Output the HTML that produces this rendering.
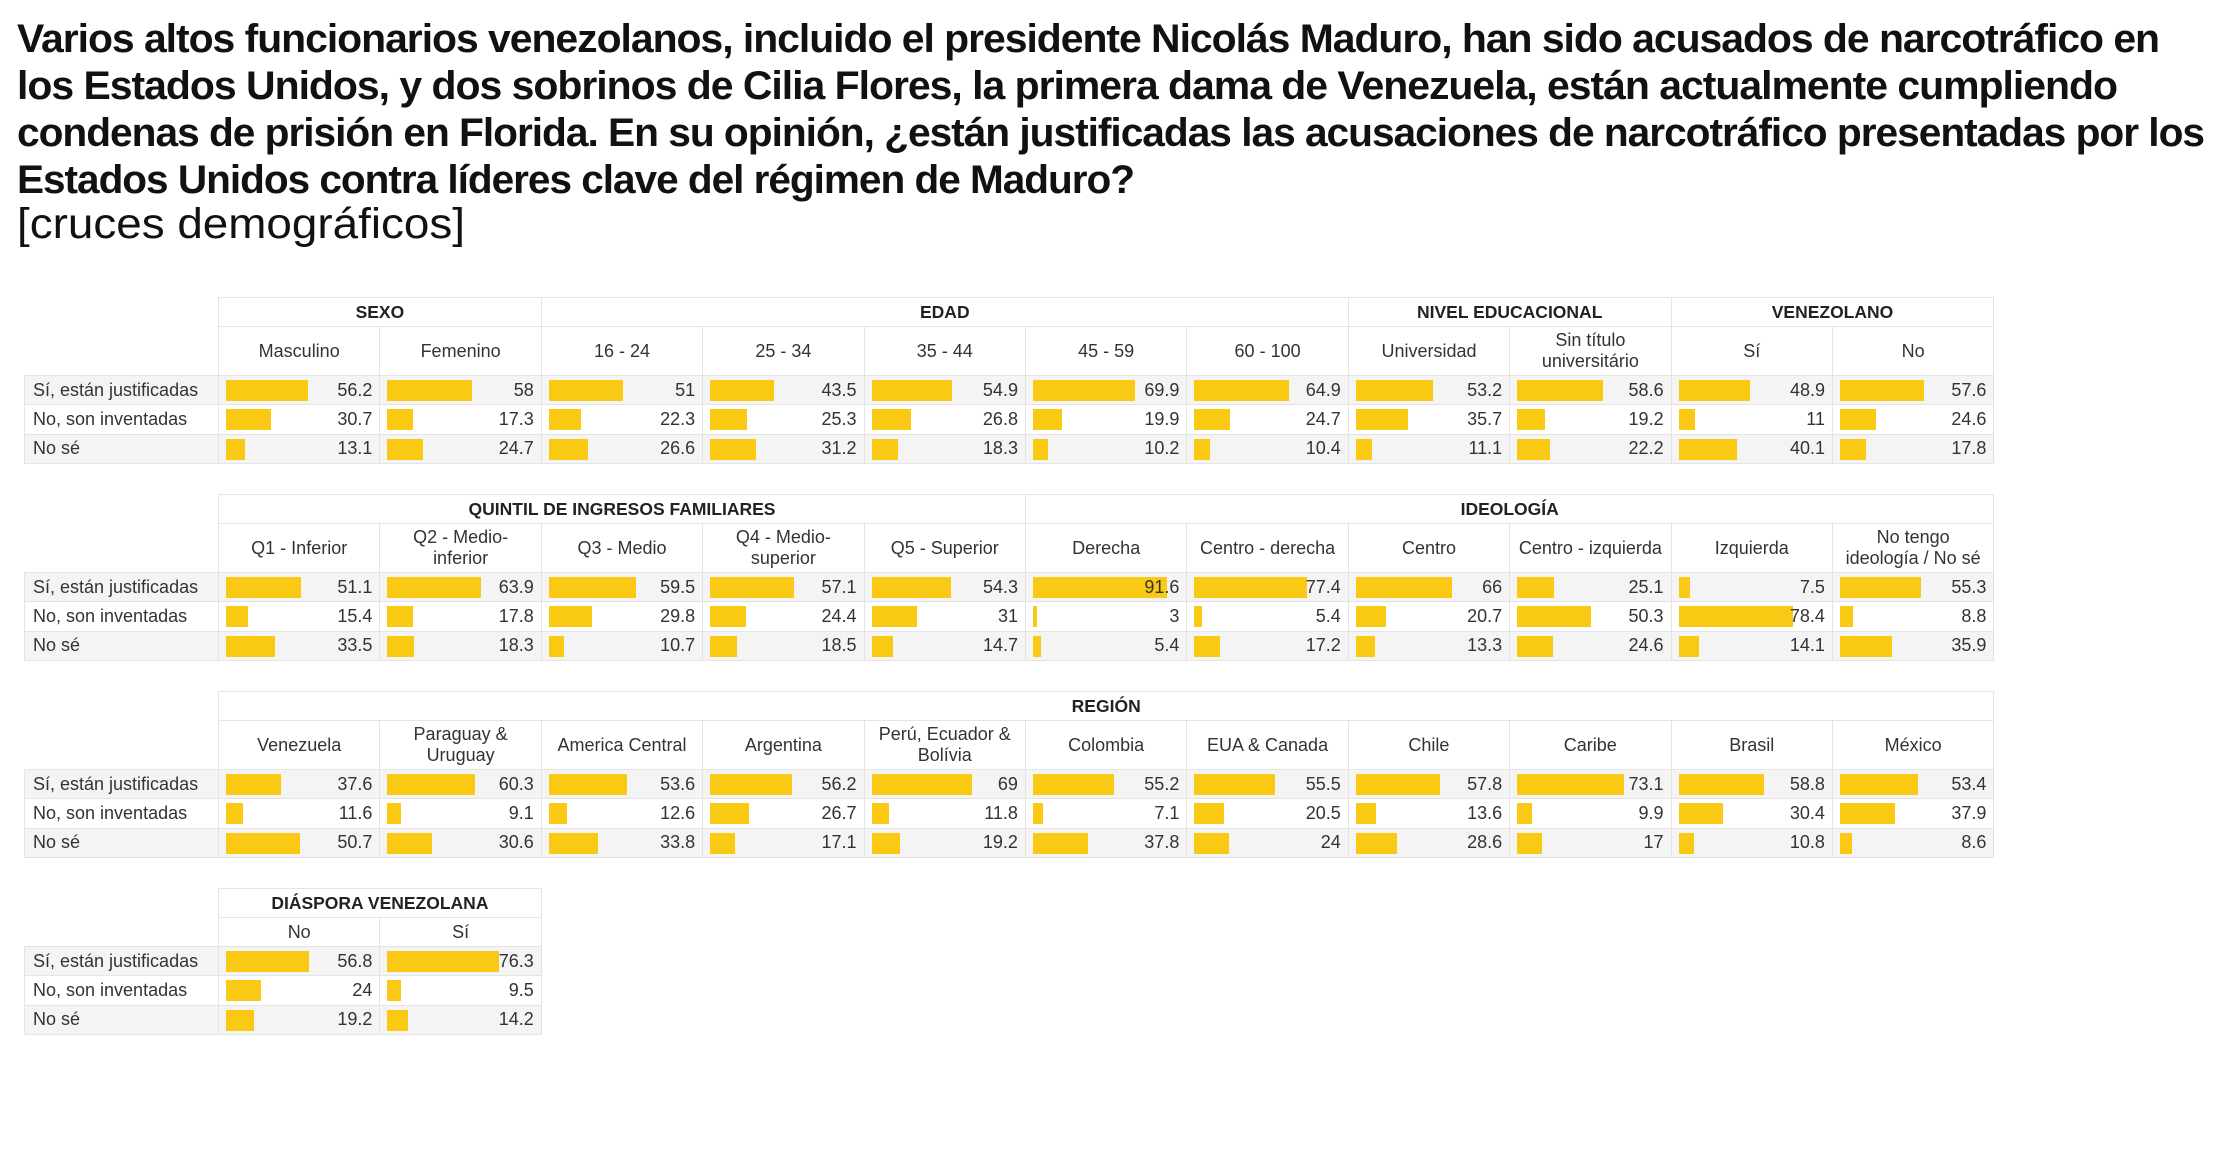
<!DOCTYPE html>
<html><head><meta charset="utf-8">
<style>
*{margin:0;padding:0;box-sizing:border-box}
body{width:2220px;height:1168px;background:#fff;position:relative;overflow:hidden;font-family:"Liberation Sans",sans-serif;color:#111}
.t{position:absolute;left:17px;font-weight:bold;font-size:40px;line-height:47px;white-space:nowrap;transform-origin:0 0;letter-spacing:-1px}
.sub{position:absolute;left:17px;top:199px;font-size:43px;line-height:50px;white-space:nowrap;transform-origin:0 0}
table{position:absolute;left:24px;border-collapse:collapse;table-layout:fixed;font-size:18px;color:#333}
td,th{border:1.5px solid #e4e4e4;font-weight:normal;text-align:center;overflow:visible;white-space:nowrap}
th.g{font-weight:bold;height:29px;font-size:17.5px;color:#222}
th.s{line-height:21px}
th.e{border:none;background:#fff}
td.l{text-align:left;padding-left:8px;background:inherit}
tr.r{height:29.4px}
tr.a{background:#f4f4f4}
tr.b{background:#fff}
td.v{position:relative;text-align:right;padding-right:7px}
td.v i{position:absolute;left:7px;top:4px;height:21px;background:#f9c913;width:calc(var(--v)*1.46px)}
td.v b{position:relative;font-weight:normal}
</style></head><body>
<div class="t" style="top:16px">Varios altos funcionarios venezolanos, incluido el presidente Nicolás Maduro, han sido acusados de narcotráfico en</div>
<div class="t" style="top:63px">los Estados Unidos, y dos sobrinos de Cilia Flores, la primera dama de Venezuela, están actualmente cumpliendo</div>
<div class="t" style="top:110px">condenas de prisión en Florida. En su opinión, ¿están justificadas las acusaciones de narcotráfico presentadas por los</div>
<div class="t" style="top:157px">Estados Unidos contra líderes clave del régimen de Maduro?</div>
<div class="sub">[cruces demográficos]</div>

<table style="top:297px;width:1969px">
<colgroup><col style="width:194px"><col span="11" style="width:161.4px"></colgroup>
<tr><th class="e"></th><th class="g" colspan="2">SEXO</th><th class="g" colspan="5">EDAD</th><th class="g" colspan="2">NIVEL EDUCACIONAL</th><th class="g" colspan="2">VENEZOLANO</th></tr>
<tr style="height:49px"><th class="e"></th><th class="s">Masculino</th><th class="s">Femenino</th><th class="s">16 - 24</th><th class="s">25 - 34</th><th class="s">35 - 44</th><th class="s">45 - 59</th><th class="s">60 - 100</th><th class="s">Universidad</th><th class="s">Sin título<br>universitário</th><th class="s">Sí</th><th class="s">No</th></tr>
<tr class="r a"><td class="l">Sí, están justificadas</td><td class="v" style="--v:56.2"><i></i><b>56.2</b></td><td class="v" style="--v:58"><i></i><b>58</b></td><td class="v" style="--v:51"><i></i><b>51</b></td><td class="v" style="--v:43.5"><i></i><b>43.5</b></td><td class="v" style="--v:54.9"><i></i><b>54.9</b></td><td class="v" style="--v:69.9"><i></i><b>69.9</b></td><td class="v" style="--v:64.9"><i></i><b>64.9</b></td><td class="v" style="--v:53.2"><i></i><b>53.2</b></td><td class="v" style="--v:58.6"><i></i><b>58.6</b></td><td class="v" style="--v:48.9"><i></i><b>48.9</b></td><td class="v" style="--v:57.6"><i></i><b>57.6</b></td></tr>
<tr class="r b"><td class="l">No, son inventadas</td><td class="v" style="--v:30.7"><i></i><b>30.7</b></td><td class="v" style="--v:17.3"><i></i><b>17.3</b></td><td class="v" style="--v:22.3"><i></i><b>22.3</b></td><td class="v" style="--v:25.3"><i></i><b>25.3</b></td><td class="v" style="--v:26.8"><i></i><b>26.8</b></td><td class="v" style="--v:19.9"><i></i><b>19.9</b></td><td class="v" style="--v:24.7"><i></i><b>24.7</b></td><td class="v" style="--v:35.7"><i></i><b>35.7</b></td><td class="v" style="--v:19.2"><i></i><b>19.2</b></td><td class="v" style="--v:11"><i></i><b>11</b></td><td class="v" style="--v:24.6"><i></i><b>24.6</b></td></tr>
<tr class="r a"><td class="l">No sé</td><td class="v" style="--v:13.1"><i></i><b>13.1</b></td><td class="v" style="--v:24.7"><i></i><b>24.7</b></td><td class="v" style="--v:26.6"><i></i><b>26.6</b></td><td class="v" style="--v:31.2"><i></i><b>31.2</b></td><td class="v" style="--v:18.3"><i></i><b>18.3</b></td><td class="v" style="--v:10.2"><i></i><b>10.2</b></td><td class="v" style="--v:10.4"><i></i><b>10.4</b></td><td class="v" style="--v:11.1"><i></i><b>11.1</b></td><td class="v" style="--v:22.2"><i></i><b>22.2</b></td><td class="v" style="--v:40.1"><i></i><b>40.1</b></td><td class="v" style="--v:17.8"><i></i><b>17.8</b></td></tr>
</table>

<table style="top:494px;width:1969px">
<colgroup><col style="width:194px"><col span="11" style="width:161.4px"></colgroup>
<tr><th class="e"></th><th class="g" colspan="5">QUINTIL DE INGRESOS FAMILIARES</th><th class="g" colspan="6">IDEOLOGÍA</th></tr>
<tr style="height:49px"><th class="e"></th><th class="s">Q1 - Inferior</th><th class="s">Q2 - Medio-<br>inferior</th><th class="s">Q3 - Medio</th><th class="s">Q4 - Medio-<br>superior</th><th class="s">Q5 - Superior</th><th class="s">Derecha</th><th class="s">Centro - derecha</th><th class="s">Centro</th><th class="s">Centro - izquierda</th><th class="s">Izquierda</th><th class="s">No tengo<br>ideología / No sé</th></tr>
<tr class="r a"><td class="l">Sí, están justificadas</td><td class="v" style="--v:51.1"><i></i><b>51.1</b></td><td class="v" style="--v:63.9"><i></i><b>63.9</b></td><td class="v" style="--v:59.5"><i></i><b>59.5</b></td><td class="v" style="--v:57.1"><i></i><b>57.1</b></td><td class="v" style="--v:54.3"><i></i><b>54.3</b></td><td class="v" style="--v:91.6"><i></i><b>91.6</b></td><td class="v" style="--v:77.4"><i></i><b>77.4</b></td><td class="v" style="--v:66"><i></i><b>66</b></td><td class="v" style="--v:25.1"><i></i><b>25.1</b></td><td class="v" style="--v:7.5"><i></i><b>7.5</b></td><td class="v" style="--v:55.3"><i></i><b>55.3</b></td></tr>
<tr class="r b"><td class="l">No, son inventadas</td><td class="v" style="--v:15.4"><i></i><b>15.4</b></td><td class="v" style="--v:17.8"><i></i><b>17.8</b></td><td class="v" style="--v:29.8"><i></i><b>29.8</b></td><td class="v" style="--v:24.4"><i></i><b>24.4</b></td><td class="v" style="--v:31"><i></i><b>31</b></td><td class="v" style="--v:3"><i></i><b>3</b></td><td class="v" style="--v:5.4"><i></i><b>5.4</b></td><td class="v" style="--v:20.7"><i></i><b>20.7</b></td><td class="v" style="--v:50.3"><i></i><b>50.3</b></td><td class="v" style="--v:78.4"><i></i><b>78.4</b></td><td class="v" style="--v:8.8"><i></i><b>8.8</b></td></tr>
<tr class="r a"><td class="l">No sé</td><td class="v" style="--v:33.5"><i></i><b>33.5</b></td><td class="v" style="--v:18.3"><i></i><b>18.3</b></td><td class="v" style="--v:10.7"><i></i><b>10.7</b></td><td class="v" style="--v:18.5"><i></i><b>18.5</b></td><td class="v" style="--v:14.7"><i></i><b>14.7</b></td><td class="v" style="--v:5.4"><i></i><b>5.4</b></td><td class="v" style="--v:17.2"><i></i><b>17.2</b></td><td class="v" style="--v:13.3"><i></i><b>13.3</b></td><td class="v" style="--v:24.6"><i></i><b>24.6</b></td><td class="v" style="--v:14.1"><i></i><b>14.1</b></td><td class="v" style="--v:35.9"><i></i><b>35.9</b></td></tr>
</table>

<table style="top:691px;width:1969px">
<colgroup><col style="width:194px"><col span="11" style="width:161.4px"></colgroup>
<tr><th class="e"></th><th class="g" colspan="11">REGIÓN</th></tr>
<tr style="height:49px"><th class="e"></th><th class="s">Venezuela</th><th class="s">Paraguay &amp;<br>Uruguay</th><th class="s">America Central</th><th class="s">Argentina</th><th class="s">Perú, Ecuador &amp;<br>Bolívia</th><th class="s">Colombia</th><th class="s">EUA &amp; Canada</th><th class="s">Chile</th><th class="s">Caribe</th><th class="s">Brasil</th><th class="s">México</th></tr>
<tr class="r a"><td class="l">Sí, están justificadas</td><td class="v" style="--v:37.6"><i></i><b>37.6</b></td><td class="v" style="--v:60.3"><i></i><b>60.3</b></td><td class="v" style="--v:53.6"><i></i><b>53.6</b></td><td class="v" style="--v:56.2"><i></i><b>56.2</b></td><td class="v" style="--v:69"><i></i><b>69</b></td><td class="v" style="--v:55.2"><i></i><b>55.2</b></td><td class="v" style="--v:55.5"><i></i><b>55.5</b></td><td class="v" style="--v:57.8"><i></i><b>57.8</b></td><td class="v" style="--v:73.1"><i></i><b>73.1</b></td><td class="v" style="--v:58.8"><i></i><b>58.8</b></td><td class="v" style="--v:53.4"><i></i><b>53.4</b></td></tr>
<tr class="r b"><td class="l">No, son inventadas</td><td class="v" style="--v:11.6"><i></i><b>11.6</b></td><td class="v" style="--v:9.1"><i></i><b>9.1</b></td><td class="v" style="--v:12.6"><i></i><b>12.6</b></td><td class="v" style="--v:26.7"><i></i><b>26.7</b></td><td class="v" style="--v:11.8"><i></i><b>11.8</b></td><td class="v" style="--v:7.1"><i></i><b>7.1</b></td><td class="v" style="--v:20.5"><i></i><b>20.5</b></td><td class="v" style="--v:13.6"><i></i><b>13.6</b></td><td class="v" style="--v:9.9"><i></i><b>9.9</b></td><td class="v" style="--v:30.4"><i></i><b>30.4</b></td><td class="v" style="--v:37.9"><i></i><b>37.9</b></td></tr>
<tr class="r a"><td class="l">No sé</td><td class="v" style="--v:50.7"><i></i><b>50.7</b></td><td class="v" style="--v:30.6"><i></i><b>30.6</b></td><td class="v" style="--v:33.8"><i></i><b>33.8</b></td><td class="v" style="--v:17.1"><i></i><b>17.1</b></td><td class="v" style="--v:19.2"><i></i><b>19.2</b></td><td class="v" style="--v:37.8"><i></i><b>37.8</b></td><td class="v" style="--v:24"><i></i><b>24</b></td><td class="v" style="--v:28.6"><i></i><b>28.6</b></td><td class="v" style="--v:17"><i></i><b>17</b></td><td class="v" style="--v:10.8"><i></i><b>10.8</b></td><td class="v" style="--v:8.6"><i></i><b>8.6</b></td></tr>
</table>

<table style="top:888px;width:516.8px">
<colgroup><col style="width:194px"><col span="2" style="width:161.4px"></colgroup>
<tr><th class="e"></th><th class="g" colspan="2">DIÁSPORA VENEZOLANA</th></tr>
<tr style="height:29px"><th class="e"></th><th class="s">No</th><th class="s">Sí</th></tr>
<tr class="r a"><td class="l">Sí, están justificadas</td><td class="v" style="--v:56.8"><i></i><b>56.8</b></td><td class="v" style="--v:76.3"><i></i><b>76.3</b></td></tr>
<tr class="r b"><td class="l">No, son inventadas</td><td class="v" style="--v:24"><i></i><b>24</b></td><td class="v" style="--v:9.5"><i></i><b>9.5</b></td></tr>
<tr class="r a"><td class="l">No sé</td><td class="v" style="--v:19.2"><i></i><b>19.2</b></td><td class="v" style="--v:14.2"><i></i><b>14.2</b></td></tr>
</table>

<script>
var ts=document.querySelectorAll('.t'),w=[2142,2100,2187,1117];
for(var k=0;k<ts.length;k++){var r=ts[k].getBoundingClientRect().width;if(r>0)ts[k].style.transform='scaleX('+(w[k]/r)+')';}
var s=document.querySelector('.sub');var sr=s.getBoundingClientRect().width;if(sr>0)s.style.transform='scaleX('+(448/sr)+')';
</script>
</body></html>
